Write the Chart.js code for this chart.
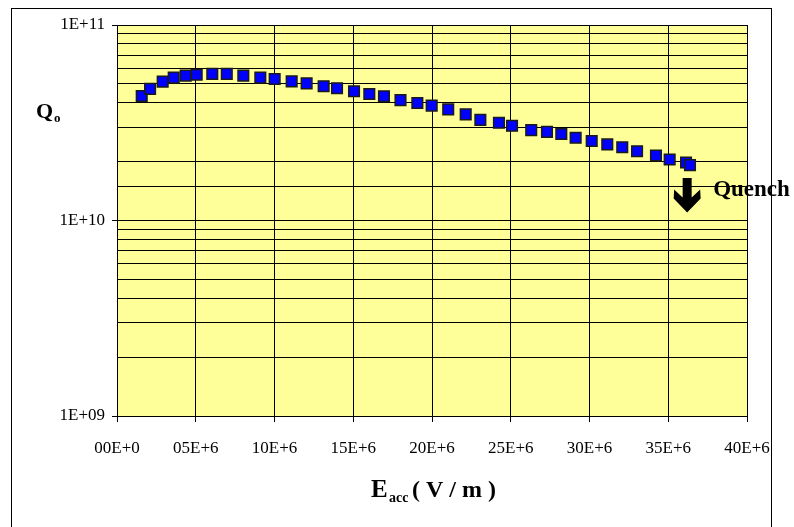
<!DOCTYPE html>
<html>
<head>
<meta charset="utf-8">
<script src="https://cdn.jsdelivr.net/npm/chart.js@4.4.1/dist/chart.umd.min.js"></script>
<style>
  html, body { margin: 0; padding: 0; background: #fff; }
  #wrap { width: 794px; height: 527px; }
</style>
</head>
<body>
<div id="wrap"><canvas id="qChart" width="794" height="527"></canvas></div>
<script>
// Eacc in MV/m (multiplied to V/m below), Q0
const eaccMV = [1.57, 2.10, 2.90, 3.60, 4.36, 5.06, 6.05, 6.97, 8.02, 9.10,
                10.01, 11.09, 12.04, 13.12, 13.97, 15.05, 16.02, 16.95, 18.00, 19.07,
                19.98, 21.03, 22.14, 23.07, 24.25, 25.08, 26.30, 27.30, 28.21, 29.12,
                30.14, 31.13, 32.08, 33.02, 34.22, 35.09, 36.13, 36.38];
const q0 = [4.33e10, 4.71e10, 5.13e10, 5.38e10, 5.51e10, 5.57e10, 5.62e10, 5.62e10, 5.51e10, 5.38e10,
            5.29e10, 5.15e10, 5.03e10, 4.86e10, 4.75e10, 4.58e10, 4.44e10, 4.32e10, 4.13e10, 3.99e10,
            3.87e10, 3.70e10, 3.49e10, 3.27e10, 3.16e10, 3.05e10, 2.90e10, 2.84e10, 2.77e10, 2.65e10,
            2.55e10, 2.45e10, 2.37e10, 2.26e10, 2.15e10, 2.05e10, 1.98e10, 1.92e10];

const xTickLabels = ['00E+0', '05E+6', '10E+6', '15E+6', '20E+6', '25E+6', '30E+6', '35E+6', '40E+6'];
const yTickValues = [1e9, 1e10, 1e11];
const yTickLabels = ['1E+09', '1E+10', '1E+11'];

// quench marker (data coords)
const quenchE = 36.2e6;
const quenchTopQ = 1.65e10;
const quenchTipQ = 1.1e10;

function yLabelFor(v) {
    for (let i = 0; i < yTickValues.length; i++) {
        if (Math.abs(v - yTickValues[i]) / yTickValues[i] < 1e-6) return yTickLabels[i];
    }
    return null;
}

const decorPlugin = {
    id: 'decor',
    beforeDraw(chart) {
        const c = chart.ctx, a = chart.chartArea;
        c.save();
        c.fillStyle = '#ffffff';
        c.fillRect(0, 0, chart.width, chart.height);
        c.fillStyle = '#ffff99';
        c.fillRect(a.left, a.top, a.right - a.left, a.bottom - a.top);
        c.restore();
    },
    afterDraw(chart) {
        const c = chart.ctx;
        const xs = chart.scales.x, ys = chart.scales.y;
        c.save();
        // outer frame
        c.strokeStyle = '#000';
        c.lineWidth = 1;
        c.strokeRect(11.5, 8.5, 760, 600);

        c.fillStyle = '#000';
        c.textBaseline = 'alphabetic';
        c.textAlign = 'left';
        // y title Q0
        c.font = 'bold 22px "Liberation Serif"';
        c.fillText('Q', 36, 118);
        c.font = 'bold 13px "Liberation Serif"';
        c.fillText('o', 54, 122);
        // x title Eacc (V/m)
        c.font = 'bold 25px "Liberation Serif"';
        c.fillText('E', 371, 497);
        c.font = 'bold 14px "Liberation Serif"';
        c.fillText('acc', 389, 502);
        c.font = 'bold 24px "Liberation Serif"';
        c.fillText('( V / m )', 412, 497);

        // quench arrow
        const cx = xs.getPixelForValue(quenchE);
        const top = ys.getPixelForValue(quenchTopQ);
        const tip = ys.getPixelForValue(quenchTipQ);
        const hy = tip - 23;
        c.beginPath();
        c.moveTo(cx - 4.5, top);
        c.lineTo(cx + 4.5, top);
        c.lineTo(cx + 4.5, hy + 8);
        c.lineTo(cx + 13, hy);
        c.lineTo(cx + 13.5, hy + 9);
        c.lineTo(cx, tip);
        c.lineTo(cx - 13.5, hy + 9);
        c.lineTo(cx - 13, hy);
        c.lineTo(cx - 4.5, hy + 8);
        c.closePath();
        c.fill();
        c.font = 'bold 23px "Liberation Serif"';
        c.fillText('Quench', cx + 26, hy + 7);
        c.restore();
    }
};

const ctx = document.getElementById('qChart').getContext('2d');
const qChart = new Chart(ctx, {
    type: 'scatter',
    data: {
        datasets: [{
            label: 'Q0',
            data: eaccMV.map((e, i) => ({ x: e * 1e6, y: q0[i] })),
            pointStyle: 'rect',
            pointRadius: 7.5,
            pointHoverRadius: 7.5,
            backgroundColor: '#0000ff',
            borderColor: '#1a1a1a',
            borderWidth: 1.5,
            showLine: false
        }]
    },
    options: {
        responsive: false,
        animation: false,
        layout: { padding: { left: 0, top: 25, right: 47, bottom: 0 } },
        plugins: {
            legend: { display: false },
            tooltip: { enabled: false }
        },
        scales: {
            x: {
                type: 'linear',
                min: 0,
                max: 40e6,
                afterFit: s => { s.height = 111; },
                ticks: {
                    stepSize: 5e6,
                    color: '#000',
                    padding: 16,
                    maxRotation: 0,
                    font: { family: 'Liberation Serif', size: 17 },
                    callback: (v, i) => xTickLabels[i]
                },
                grid: { color: '#000', lineWidth: 1, tickLength: 6, tickColor: '#000' },
                border: { color: '#000', width: 1 }
            },
            y: {
                type: 'logarithmic',
                min: 1e9,
                max: 1e11,
                afterFit: s => { s.width = 117; },
                ticks: {
                    color: '#000',
                    padding: 7,
                    autoSkip: false,
                    font: { family: 'Liberation Serif', size: 17 },
                    callback: v => yLabelFor(v) || ''
                },
                grid: {
                    color: '#000',
                    lineWidth: 1,
                    tickLength: 5,
                    tickColor: c => (c.tick && yLabelFor(c.tick.value)) ? '#000' : 'rgba(0,0,0,0)'
                },
                border: { color: '#000', width: 1 }
            }
        }
    },
    plugins: [decorPlugin]
});
</script>
</body>
</html>
